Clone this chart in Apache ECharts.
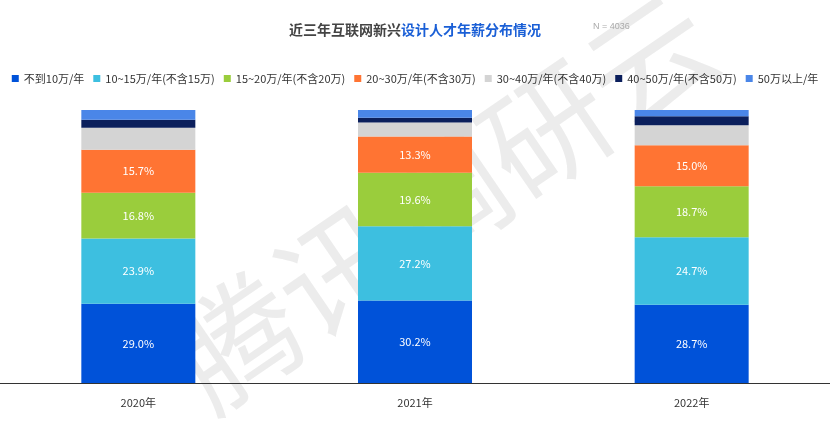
<!DOCTYPE html>
<html>
<head>
<meta charset="utf-8">
<script src="https://cdn.jsdelivr.net/npm/echarts@6/dist/echarts.min.js"></script>
</head>
<body style="margin:0">
<div id="main" style="width:830px;height:428px;"></div>
<script>
var years = ['2020年', '2021年', '2022年'];
var names = ['不到10万/年', '10~15万/年(不含15万)', '15~20万/年(不含20万)', '20~30万/年(不含30万)', '30~40万/年(不含40万)', '40~50万/年(不含50万)', '50万以上/年'];
var values = [
	[29.0, 30.2, 28.7],
	[23.9, 27.2, 24.7],
	[16.8, 19.6, 18.7],
	[15.7, 13.3, 15.0],
	[8.1, 5.1, 7.3],
	[2.9, 1.8, 3.3],
	[3.6, 2.8, 2.3]
];
var colors = ['#0052d9', '#3dbfe0', '#9acd3c', '#ff7433', '#d4d4d4', '#0b1f5c', '#4a86e8'];

var series = [];
for (var i = 0; i < names.length; i++) {
	series.push({
		name: names[i],
		type: 'bar',
		stack: 'all',
		barWidth: 114,
		data: values[i],
		itemStyle: { color: colors[i] },
		label: {
			show: i < 4,
			color: '#fff',
			fontSize: 11,
			formatter: function (p) { return p.value.toFixed(1) + '%'; }
		}
	});
}

var option = {
	animation: false,
	textStyle: { fontFamily: 'Noto Sans CJK SC' },
	color: colors,
	title: {
		text: '{a|近三年互联网新兴}{b|设计人才年薪分布情况}',
		left: 'center',
		top: 18,
		textStyle: {
			rich: {
				a: { fontSize: 14, fontWeight: 'bold', color: '#444' },
				b: { fontSize: 14, fontWeight: 'bold', color: '#1a5fd6' }
			}
		}
	},
	graphic: [
		{ type: 'text', left: 593, top: 22, style: { text: 'N = 4036', fontSize: 9, fill: '#aaa' } },
		{ type: 'text', x: 150, y: 325, rotation: 0.6, silent: true, z: -1,
			style: { text: '腾讯调研云', fontSize: 125, fill: 'rgba(160,160,160,0.2)', fontFamily: 'Noto Sans CJK SC' } }
	],
	legend: {
		data: names,
		top: 68,
		left: 'center',
		itemWidth: 7,
		itemHeight: 7,
		itemGap: 9,
		icon: 'rect',
		textStyle: { fontSize: 11, color: '#333' }
	},
	grid: { left: 0, right: 0, top: 110, bottom: 45 },
	xAxis: {
		type: 'category',
		data: years,
		axisTick: { show: false },
		axisLine: { lineStyle: { color: '#333' } },
		axisLabel: { color: '#333', fontSize: 11, margin: 14 }
	},
	yAxis: { type: 'value', min: 0, max: 100, show: false, splitLine: { show: false } },
	series: series
};
echarts.init(document.getElementById('main')).setOption(option);
</script>
</body>
</html>
